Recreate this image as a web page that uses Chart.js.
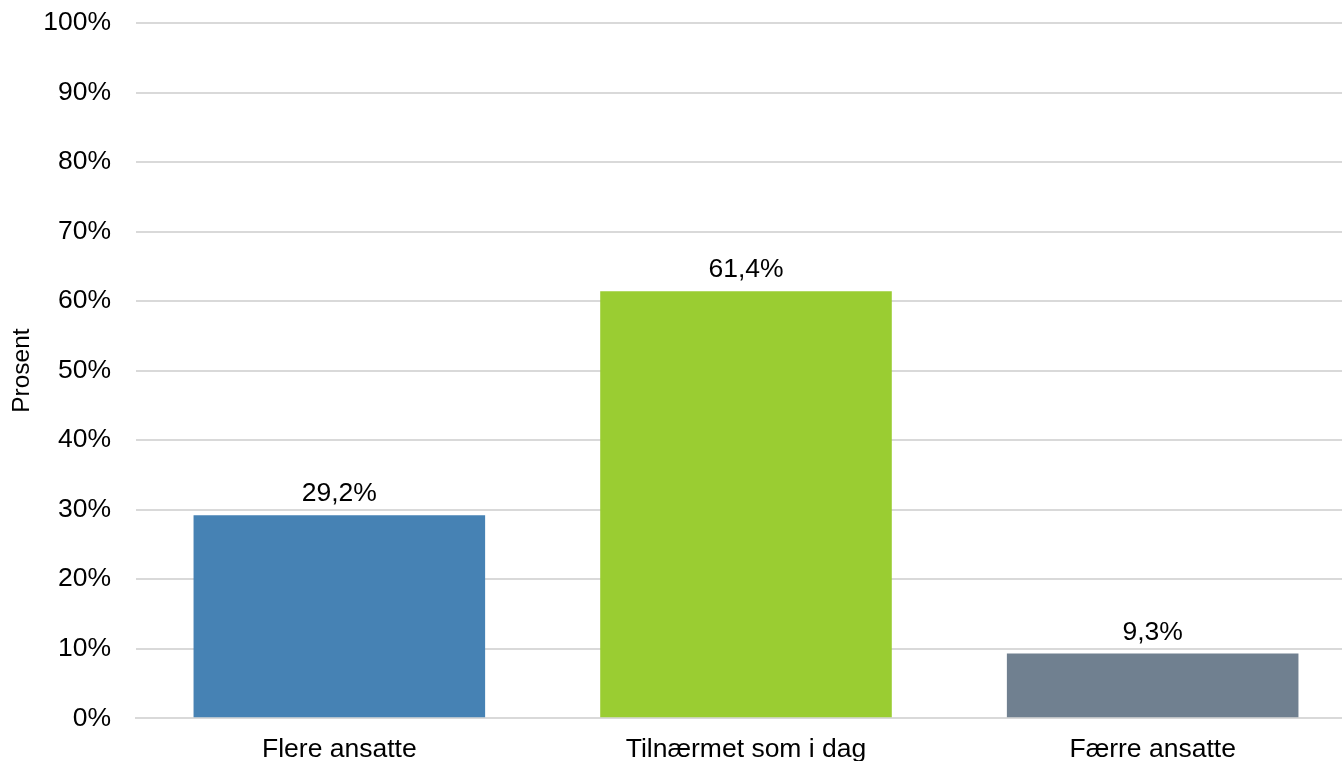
<!DOCTYPE html>
<html>
<head>
<meta charset="utf-8">
<script src="https://cdn.jsdelivr.net/npm/chart.js@4.4.1/dist/chart.umd.min.js"></script>
<style>
html,body{margin:0;padding:0;background:#fff;overflow:hidden;}
#wrap{width:1356px;height:761px;position:relative;}
</style>
</head>
<body>
<div id="wrap"><canvas id="c"></canvas></div>
<script>
const categories = ["Flere ansatte", "Tilnærmet som i dag", "Færre ansatte"];
const values = [29.2, 61.4, 9.3];
const barColors = ["#4682B4", "#9ACD32", "#708090"];
const yTicks = [0, 10, 20, 30, 40, 50, 60, 70, 80, 90, 100];
const yTitle = "Prosent";

const FONT = "'Liberation Sans', Arial, Helvetica, sans-serif";
const FS = 26.5;

const valueLabels = {
  id: 'valueLabels',
  afterDatasetsDraw(chart) {
    const ctx = chart.ctx;
    const meta = chart.getDatasetMeta(0);
    ctx.save();
    ctx.font = FS + "px " + FONT;
    ctx.fillStyle = "#000";
    ctx.textAlign = "center";
    ctx.textBaseline = "alphabetic";
    meta.data.forEach((bar, i) => {
      const txt = values[i].toFixed(1).replace('.', ',') + '%';
      ctx.fillText(txt, bar.x, bar.y - 14);
    });
    ctx.restore();
  }
};

new Chart(document.getElementById('c'), {
  type: 'bar',
  data: {
    labels: categories,
    datasets: [{
      data: values,
      backgroundColor: barColors,
      borderWidth: 0,
      categoryPercentage: 1,
      barPercentage: 0.717
    }]
  },
  options: {
    responsive: true,
    maintainAspectRatio: false,
    animation: false,
    layout: { padding: { top: 0, left: 0, right: 0, bottom: -21 } },
    plugins: { legend: { display: false }, tooltip: { enabled: false } },
    scales: {
      x: {
        grid: { display: false, drawTicks: false },
        border: { display: true, color: '#d9d9d9', width: 2 },
        ticks: { color: '#000', font: { family: FONT, size: FS }, padding: 16, maxRotation: 0 }
      },
      y: {
        min: 0, max: 100,
        afterBuildTicks(scale) { scale.ticks = yTicks.map(v => ({ value: v })); },
        afterFit(scale) {
          scale.width = 136;
          scale.paddingTop = 23;
          scale.paddingBottom = 0;
        },
        grid: { color: '#d9d9d9', lineWidth: 2, drawTicks: false },
        border: { display: false },
        ticks: {
          color: '#000', font: { family: FONT, size: FS }, padding: 25,
          callback: v => v + '%'
        },
        title: { display: true, text: yTitle, color: '#000', font: { family: FONT, size: 24.5 }, padding: { top: 8, bottom: 0 } }
      }
    }
  },
  plugins: [valueLabels]
});
</script>
</body>
</html>
